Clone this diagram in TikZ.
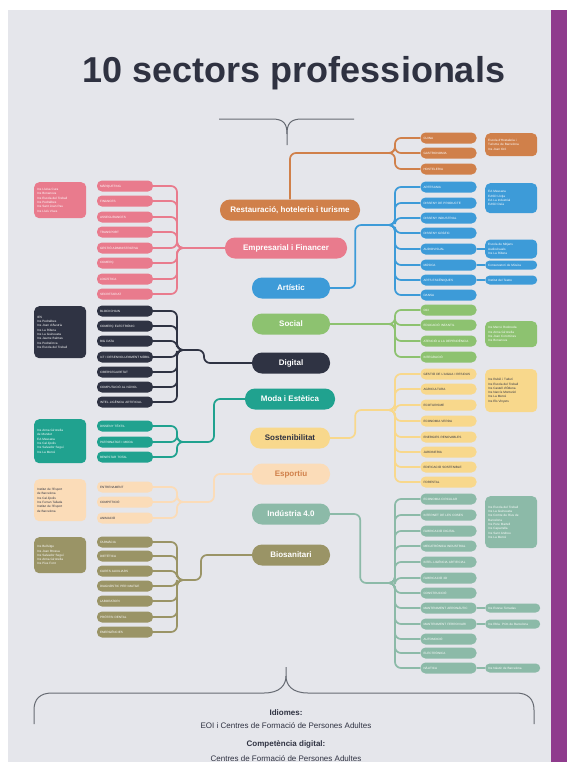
\documentclass[tikz,border=0pt]{standalone}
\usepackage{fontspec}
\setmainfont{Liberation Sans}
\usetikzlibrary{positioning,calc}
\definecolor{bggray}{HTML}{E5E6EB}
\definecolor{barpurple}{HTML}{8F3B8D}
\definecolor{titlegray}{HTML}{2F3241}
\definecolor{bracegray}{HTML}{666A72}
\definecolor{restc}{HTML}{D0804A}
\definecolor{empc}{HTML}{E97B8D}
\definecolor{artc}{HTML}{3D9BD8}
\definecolor{socc}{HTML}{8DC270}
\definecolor{digc}{HTML}{2F3343}
\definecolor{modac}{HTML}{20A28F}
\definecolor{sostc}{HTML}{F8D88C}
\definecolor{espc}{HTML}{FBDCB8}
\definecolor{indc}{HTML}{8CBAA8}
\definecolor{bioc}{HTML}{9A9466}
\tikzset{
  sector/.style={rounded corners=10pt,minimum height=21pt,inner xsep=5pt,inner ysep=0pt,text=white,font=\fontsize{8}{9}\selectfont\bfseries},
  leaf/.style={rounded corners=5pt,minimum height=11pt,text width=50pt,inner xsep=3pt,inner ysep=0pt,align=left,text=white,font=\fontsize{3.1}{3.5}\selectfont},
  infobox/.style={rounded corners=5pt,text width=46pt,inner sep=3pt,align=left,text=white,font=\fontsize{3.1}{4.3}\selectfont,anchor=north west},
  infopill/.style={rounded corners=4.5pt,minimum height=9pt,text width=49pt,inner xsep=3pt,inner ysep=0pt,align=left,text=white,font=\fontsize{3.1}{3.5}\selectfont},
  branch/.style={line width=1.7pt,rounded corners=6pt},
}
\begin{document}
\begin{tikzpicture}[x=1pt,y=-1pt]
\useasboundingbox (0,0) rectangle (573,769);
\fill[white] (0,0) rectangle (573,769);
\fill[bggray] (8,10) rectangle (551,762);
\fill[barpurple] (551,10) rectangle (567,762);

\node[text=titlegray,font=\fontsize{36}{40}\selectfont\bfseries] (title) at (294,73) {10 sectors professionals};

% bracket under the title
\coordinate (tl) at (219,119);
\coordinate (tr) at (354,119);
\coordinate (tb) at (287,145);
\draw[bracegray,line width=1pt] (tl) -- (272,119) .. controls (284,119) and (287,124) .. (287,134) -- (tb);
\draw[bracegray,line width=1pt] (tr) -- (302,119) .. controls (290,119) and (287,124) .. (287,134);

\def\lx{125}
\def\rx{448.5}
\def\ls{177}
\def\rs{395}

% sectors
\node[sector,fill=restc,minimum width=140pt] (rest) at (290,210) {Restauració, hoteleria i turisme};
\node[sector,fill=empc,minimum width=122pt] (emp) at (286,248) {Empresarial i Financer};
\node[sector,fill=artc,minimum width=78pt] (art) at (291,288) {Artístic};
\node[sector,fill=socc,minimum width=78pt] (soc) at (291,324) {Social};
\node[sector,fill=digc,minimum width=78pt] (dig) at (291,363) {Digital};
\node[sector,fill=modac,minimum width=90pt] (moda) at (290,399) {Moda i Estètica};
\node[sector,fill=sostc,minimum width=80pt,text=titlegray] (sost) at (290,438) {Sostenibilitat};
\node[sector,fill=espc,minimum width=78pt,text=restc] (esp) at (291,474) {Esportiu};
\node[sector,fill=indc,minimum width=78pt] (ind) at (291,514) {Indústria 4.0};
\node[sector,fill=bioc,minimum width=78pt] (bio) at (291,555) {Biosanitari};

% ---- right side ----
\coordinate (rj) at (\rs,153);
\coordinate (rjl) at ({\rs-12},153);
\foreach \y/\t [count=\i] in {138/CUINA,153/GASTRONOMIA,169/HOSTELERIA}{
  \node[leaf,fill=restc] (rest\i) at (\rx,\y) {\t};
  \draw[branch,restc] (rest\i.west) -| (rj) -- (rjl);
}
\draw[branch,restc] (rest.north) |- (rjl);
\node[infobox,fill=restc,minimum height=23pt] (restbox) at (485,133) {Escola d'Hostaleria i\\Turisme de Barcelona\\Ins Joan Oró};

\coordinate (aj) at (\rs,225);
\coordinate (ajl) at ({\rs-12},225);
\foreach \y/\t [count=\i] in {187/ARTESANIA,203/DISSENY DE PRODUCTE,218/DISSENY INDUSTRIAL,233/DISSENY GRÀFIC,249/AUDIOVISUAL,265/MÚSICA,280/ARTS ESCÈNIQUES,295/DANSA}{
  \node[leaf,fill=artc] (art\i) at (\rx,\y) {\t};
  \draw[branch,artc] (art\i.west) -| (aj) -- (ajl);
}
\draw[branch,artc] (art.east) -- ++(25,0) |- (ajl);
\node[infobox,fill=artc,minimum height=30pt] (artbox) at (485,183) {EA Massana\\EASD Llotja\\EA La Industrial\\EASD Deià};
\node[infobox,fill=artc,minimum height=19pt,anchor=west] (audbox) at (485,249) {Escola de Mitjans\\Audiovisuals\\Ins La Ribera};
\node[infopill,fill=artc,text width=46pt,anchor=west] (musbox) at (485,265) {Conservatori de Música};
\node[infopill,fill=artc,text width=46pt,anchor=west] (teabox) at (485,280) {Institut del Teatre};
\draw[branch,artc] (art5.east) -- (audbox.west);
\draw[branch,artc] (art6.east) -- (musbox.west);
\draw[branch,artc] (art7.east) -- (teabox.west);

\coordinate (sj) at (\rs,324);
\coordinate (sjl) at ({\rs-12},324);
\foreach \y/\t [count=\i] in {310/OCI,325/EDUCACIÓ INFANTIL,341/ATENCIÓ A LA DEPENDÈNCIA,357/INTEGRACIÓ}{
  \node[leaf,fill=socc] (soc\i) at (\rx,\y) {\t};
  \draw[branch,socc] (soc\i.west) -| (sj) -- (sjl);
}
\draw[branch,socc] (soc.east) -- (sjl);
\node[infobox,fill=socc,minimum height=26pt] (socbox) at (485,321) {Ins Mercè Rodoreda\\Ins Anna Gironella\\Ins Joan Coromines\\Ins Bonanova};

\coordinate (oj) at (\rs,410);
\coordinate (ojl) at ({\rs-12},410);
\foreach \y/\t [count=\i] in {374/GESTIÓ DE L'AIGUA I RESIDUS,389/AGRICULTURA,405/ECOTURISME,421/ECONOMIA VERDA,437/ENERGIES RENOVABLES,452/JARDINERIA,467/EDIFICACIÓ SOSTENIBLE,482/FORESTAL}{
  \node[leaf,fill=sostc,text=titlegray] (sost\i) at (\rx,\y) {\t};
  \draw[branch,sostc] (sost\i.west) -| (oj) -- (ojl);
}
\draw[branch,sostc] (sost.east) -- ++(25,0) |- (ojl);
\node[infobox,fill=sostc,text=titlegray,minimum height=43pt] (sostbox) at (485,369) {Ins Rubió i Tudurí\\Ins Escola del Treball\\Ins Castell d'Òdena\\Ins Narcís Monturiol\\Ins La Mercè\\Ins Els Vinyets};

\coordinate (ij) at (\rs,583);
\coordinate (ijl) at ({\rs-12},583);
\foreach \y/\t [count=\i] in {499/ECONOMIA CIRCULAR,515/INTERNET DE LES COSES,531/FABRICACIÓ DIGITAL,546/MECATRÒNICA INDUSTRIAL,562/INTEL·LIGÈNCIA ARTIFICIAL,578/FABRICACIÓ 3D,593/CONSTRUCCIÓ,608/MANTENIMENT AERONÀUTIC,624/MANTENIMENT FERROVIARI,639/AUTOMOCIÓ,653/ELECTRÒNICA,668/NÀUTICA}{
  \node[leaf,fill=indc] (ind\i) at (\rx,\y) {\t};
  \draw[branch,indc] (ind\i.west) -| (ij) -- (ijl);
}
\draw[branch,indc] (ind.east) -- ++(30,0) |- (ijl);
\node[infobox,fill=indc,minimum height=52pt] (indbox) at (485,496) {Ins Escola del Treball\\Ins La Guineueta\\Ins Comte de Rius de\\Barcelona\\Ins Pere Martell\\Ins Caparrella\\Ins Sant Andreu\\Ins La Mercè};
\node[infopill,fill=indc,anchor=west] (aerobox) at (485,608) {Ins Esteve Terradas};
\node[infopill,fill=indc,anchor=west] (ferrobox) at (485,624) {Ins Rbla. Prim de Barcelona};
\node[infopill,fill=indc,anchor=west] (nautbox) at (485,668) {Ins Nàutic de Barcelona};
\draw[branch,indc] (ind8.east) -- (aerobox.west);
\draw[branch,indc] (ind9.east) -- (ferrobox.west);
\draw[branch,indc] (ind12.east) -- (nautbox.west);

% ---- left side ----
\coordinate (ej) at (\ls,248);
\coordinate (ejr) at ({\ls+12},248);
\foreach \y/\t [count=\i] in {186/MÀRQUETING,201/FINANCES,217/ASSEGURANCES,232/TRANSPORT,248/GESTIÓ ADMINISTRATIVA,263/COMERÇ,279/LOGÍSTICA,294/SECRETARIAT}{
  \node[leaf,fill=empc] (emp\i) at (\lx,\y) {\t};
  \draw[branch,empc] (emp\i.east) -| (ej) -- (ejr);
}
\draw[branch,empc] (ejr) -- (emp.west);
\node[infobox,fill=empc,minimum height=36pt] (empbox) at (34,182) {Ins Lluïsa Cura\\Ins Bonanova\\Ins Escola del Treball\\Ins Pedralbes\\Ins Sant Joan Pau\\Ins Lluís Vives};

\coordinate (dj) at (\ls,350);
\coordinate (djr) at ({\ls+12},350);
\foreach \y/\t [count=\i] in {311/BLOCKCHAIN,326/COMERÇ ELECTRÒNIC,341/BIG DATA,357/IoT I DESENVOLUPAMENT MÒBIL,372/CIBERSEGURETAT,387/COMPUTACIÓ AL NÚVOL,402/INTEL·LIGÈNCIA ARTIFICIAL}{
  \node[leaf,fill=digc] (dig\i) at (\lx,\y) {\t};
  \draw[branch,digc] (dig\i.east) -| (dj) -- (djr);
}
\draw[branch,digc] (djr) -- ++(15,0) |- (dig.west);
\node[infobox,fill=digc,minimum height=52pt] (digbox) at (34,306) {IES\\Ins Pedralbes\\Ins Joan d'Àustria\\Ins La Ribera\\Ins La Guineueta\\Ins Jaume Balmes\\Ins Pedraforca\\Ins Escola del Treball};

\coordinate (mj) at (\ls,442);
\coordinate (mjr) at ({\ls+12},442);
\foreach \y/\t [count=\i] in {426/DISSENY TÈXTIL,442/PATRONATGE I MODA,457/BENESTAR TOTAL}{
  \node[leaf,fill=modac] (moda\i) at (\lx,\y) {\t};
  \draw[branch,modac] (moda\i.east) -| (mj) -- (mjr);
}
\draw[branch,modac] (mjr) -- ++(25,0) |- (moda.west);
\node[infobox,fill=modac,minimum height=44pt] (modabox) at (34,419) {Ins Anna Gironella\\de Mundet\\EA Massana\\Ins Cal·lípolis\\Ins Salvador Seguí\\Ins La Mercè};

\coordinate (pj) at (\ls,502);
\coordinate (pjr) at ({\ls+12},502);
\foreach \y/\t [count=\i] in {487/ENTRENAMENT,502/COMPETICIÓ,518/ANIMACIÓ}{
  \node[leaf,fill=espc,text=titlegray] (esp\i) at (\lx,\y) {\t};
  \draw[branch,espc] (esp\i.east) -| (pj) -- (pjr);
}
\draw[branch,espc] (pjr) -- ++(25,0) |- (esp.west);
\node[infobox,fill=espc,text=titlegray,minimum height=42pt] (espbox) at (34,479) {Institut de l'Esport\\de Barcelona\\Ins Cal·lípolis\\Ins Ferran Tallada\\Institut de l'Esport\\de Barcelona};

\coordinate (bj) at (\ls,580);
\coordinate (bjr) at ({\ls+12},580);
\foreach \y/\t [count=\i] in {542/FARMÀCIA,556/DIETÈTICA,571/CURES AUXILIARS,586/DIAGNÒSTIC PER IMATGE,601/LABORATORI,617/PRÒTESI DENTAL,632/EMERGÈNCIES}{
  \node[leaf,fill=bioc] (bio\i) at (\lx,\y) {\t};
  \draw[branch,bioc] (bio\i.east) -| (bj) -- (bjr);
}
\draw[branch,bioc] (bjr) -- ++(12,0) |- (bio.west);
\node[infobox,fill=bioc,minimum height=36pt] (biobox) at (34,537) {Ins Bellvitge\\Ins Joan Brossa\\Ins Salvador Seguí\\Ins Anna Gironella\\Ins Pius Font};

% brace at the bottom
\coordinate (bl) at (34,724);
\coordinate (br) at (534,724);
\coordinate (bt) at (286,667);
\draw[bracegray,line width=1pt] (bl) -- (34,710) .. controls (34,699) and (40,693) .. (52,693) -- (264,693) .. controls (280,693) and (286,685) .. (286,676) -- (bt);
\draw[bracegray,line width=1pt] (br) -- (534,710) .. controls (534,699) and (528,693) .. (516,693) -- (308,693) .. controls (292,693) and (286,685) .. (286,676);

\node[text=titlegray,font=\fontsize{8}{9}\selectfont\bfseries] (idi) at (286,713) {Idiomes:};
\node[text=titlegray,font=\fontsize{8}{9}\selectfont,below=0pt of idi] (idiwhere) {EOI i Centres de Formació de Persones Adultes};
\node[text=titlegray,font=\fontsize{8}{9}\selectfont\bfseries,below=5pt of idiwhere] (comp) {Competència digital:};
\node[text=titlegray,font=\fontsize{8}{9}\selectfont,below=0pt of comp] (compwhere) {Centres de Formació de Persones Adultes};
\end{tikzpicture}
\end{document}
